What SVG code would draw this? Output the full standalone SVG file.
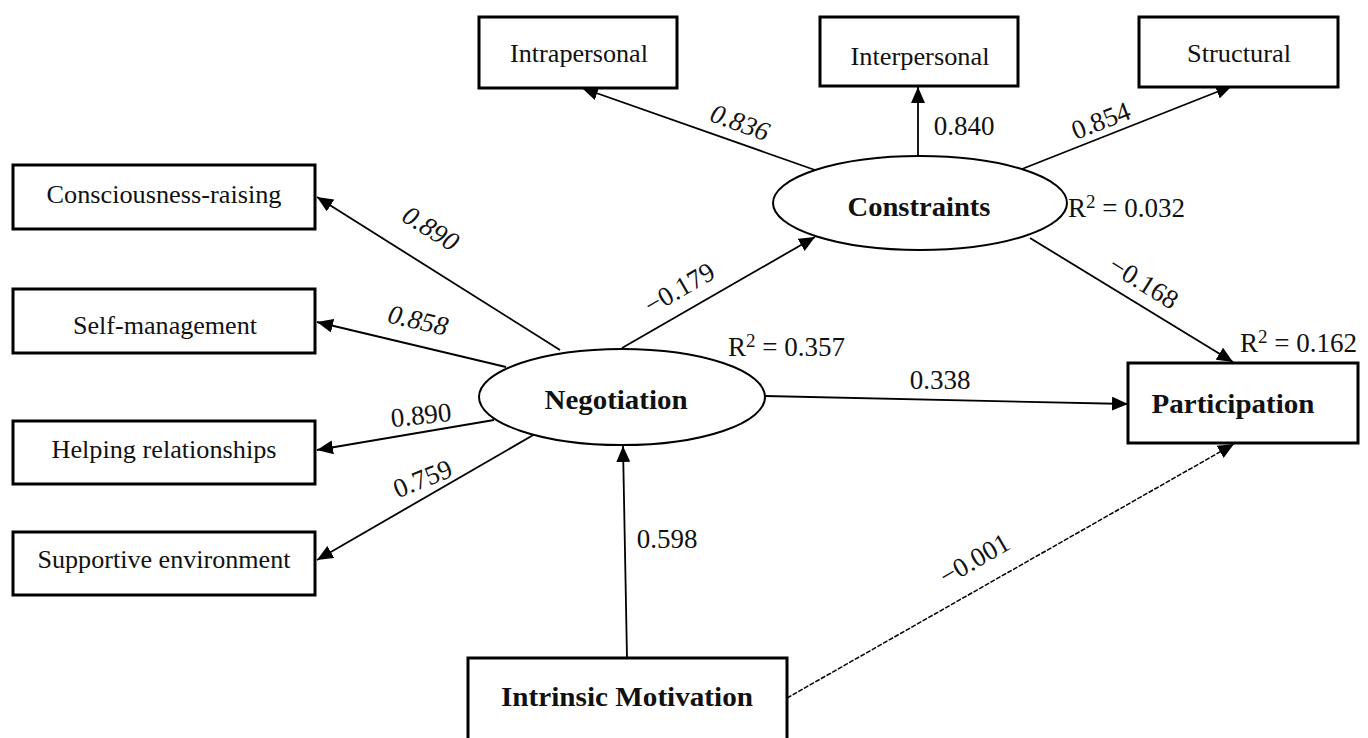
<svg xmlns="http://www.w3.org/2000/svg" width="1368" height="738" viewBox="0 0 1368 738">
<style>
  .box{fill:#fff;stroke:#000;stroke-width:3}
  .ell{fill:#fff;stroke:#000;stroke-width:2}
  .lbl{font-family:"Liberation Serif","Times New Roman",serif;font-size:25px;fill:#111;text-anchor:middle}
  .blbl{font-family:"Liberation Serif","Times New Roman",serif;font-size:28px;font-weight:bold;fill:#111;text-anchor:middle}
  .num{font-family:"Liberation Serif","Times New Roman",serif;font-size:27px;fill:#111;text-anchor:middle}
  .it{font-style:italic}
  .st{font-family:"Liberation Serif","Times New Roman",serif;font-size:27px;fill:#111}
  .c{stroke:#000;stroke-width:1.8;fill:none;marker-end:url(#ah)}
  .d{stroke:#000;stroke-width:1.5;fill:none;stroke-dasharray:5 1.5;marker-end:url(#ah)}
</style>
<defs>
  <marker id="ah" markerUnits="userSpaceOnUse" markerWidth="18" markerHeight="14" refX="16" refY="7" orient="auto">
    <path d="M0,0 L16,7 L0,14 Z" fill="#000"/>
  </marker>
</defs>
<rect width="1368" height="738" fill="#fff"/>

<g id="connectors">
  <line class="c" x1="815" y1="170" x2="582" y2="88"/>
  <line class="c" x1="918" y1="156" x2="918" y2="87"/>
  <line class="c" x1="1022" y1="169" x2="1232" y2="86"/>
  <line class="c" x1="1030" y1="238" x2="1233" y2="362"/>
  <line class="c" x1="560" y1="350" x2="317" y2="197"/>
  <line class="c" x1="506" y1="367" x2="317" y2="322"/>
  <line class="c" x1="494" y1="420" x2="317" y2="450"/>
  <line class="c" x1="535" y1="434" x2="317" y2="560"/>
  <line class="c" x1="622" y1="348" x2="815" y2="237"/>
  <line class="c" x1="765" y1="396" x2="1128" y2="404"/>
  <line class="c" x1="627" y1="658" x2="623" y2="446"/>
  <line class="d" x1="787" y1="698" x2="1234" y2="444"/>
</g>

<g id="labels">
  <text class="num it" transform="translate(737,131) rotate(20)">0.836</text>
  <text class="num" x="964" y="135">0.840</text>
  <text class="num" transform="translate(1104,129) rotate(-21)">0.854</text>
  <text class="num it" transform="translate(426,236) rotate(32)">0.890</text>
  <text class="num it" transform="translate(416,329) rotate(13)">0.858</text>
  <text class="num" transform="translate(422,424) rotate(-6)">0.890</text>
  <text class="num" transform="translate(426,487) rotate(-22)">0.759</text>
  <text class="num" transform="translate(684,296) rotate(-30)">−0.179</text>
  <text class="st" x="728" y="356">R<tspan font-size="19" dy="-9">2</tspan><tspan dy="9"> = 0.357</tspan></text>
  <text class="num" x="940" y="389">0.338</text>
  <text class="st" x="1068" y="217">R<tspan font-size="19" dy="-9">2</tspan><tspan dy="9"> = 0.032</tspan></text>
  <text class="num" transform="translate(1139,290) rotate(32)">−0.168</text>
  <text class="st" x="1240" y="352">R<tspan font-size="19" dy="-9">2</tspan><tspan dy="9"> = 0.162</tspan></text>
  <text class="num" x="667" y="548">0.598</text>
  <text class="num" transform="translate(979,567) rotate(-30)">−0.001</text>
</g>

<g id="intrapersonal"><rect class="box" x="479" y="17" width="198" height="71"/><text class="lbl" x="579" y="62" textLength="138" lengthAdjust="spacingAndGlyphs">Intrapersonal</text></g>
<g id="interpersonal"><rect class="box" x="820" y="17" width="198" height="69"/><text class="lbl" x="920" y="65" textLength="139" lengthAdjust="spacingAndGlyphs">Interpersonal</text></g>
<g id="structural"><rect class="box" x="1139" y="17" width="199" height="70"/><text class="lbl" x="1239" y="62" textLength="104" lengthAdjust="spacingAndGlyphs">Structural</text></g>

<g id="consciousness"><rect class="box" x="13" y="165" width="302" height="64"/><text class="lbl" x="164" y="203" textLength="235" lengthAdjust="spacingAndGlyphs">Consciousness-raising</text></g>
<g id="selfmanagement"><rect class="box" x="13" y="289" width="302" height="64"/><text class="lbl" x="165" y="334" textLength="184" lengthAdjust="spacingAndGlyphs">Self-management</text></g>
<g id="helping"><rect class="box" x="13" y="421" width="302" height="63"/><text class="lbl" x="164" y="458" textLength="225" lengthAdjust="spacingAndGlyphs">Helping relationships</text></g>
<g id="supportive"><rect class="box" x="13" y="532" width="302" height="63"/><text class="lbl" x="164" y="568" textLength="253" lengthAdjust="spacingAndGlyphs">Supportive environment</text></g>

<g id="constraints"><ellipse class="ell" cx="920" cy="203" rx="147" ry="47"/><text class="blbl" x="919" y="216" textLength="143" lengthAdjust="spacingAndGlyphs">Constraints</text></g>
<g id="negotiation"><ellipse class="ell" cx="622" cy="397" rx="143" ry="48"/><text class="blbl" x="616" y="409" textLength="143" lengthAdjust="spacingAndGlyphs">Negotiation</text></g>
<g id="participation"><rect class="box" x="1128" y="363" width="230" height="80"/><text class="blbl" x="1233" y="413" textLength="163" lengthAdjust="spacingAndGlyphs">Participation</text></g>
<g id="intrinsic"><rect class="box" x="468" y="658" width="319" height="100"/><text class="blbl" x="627" y="706" textLength="252" lengthAdjust="spacingAndGlyphs">Intrinsic Motivation</text></g>
</svg>
